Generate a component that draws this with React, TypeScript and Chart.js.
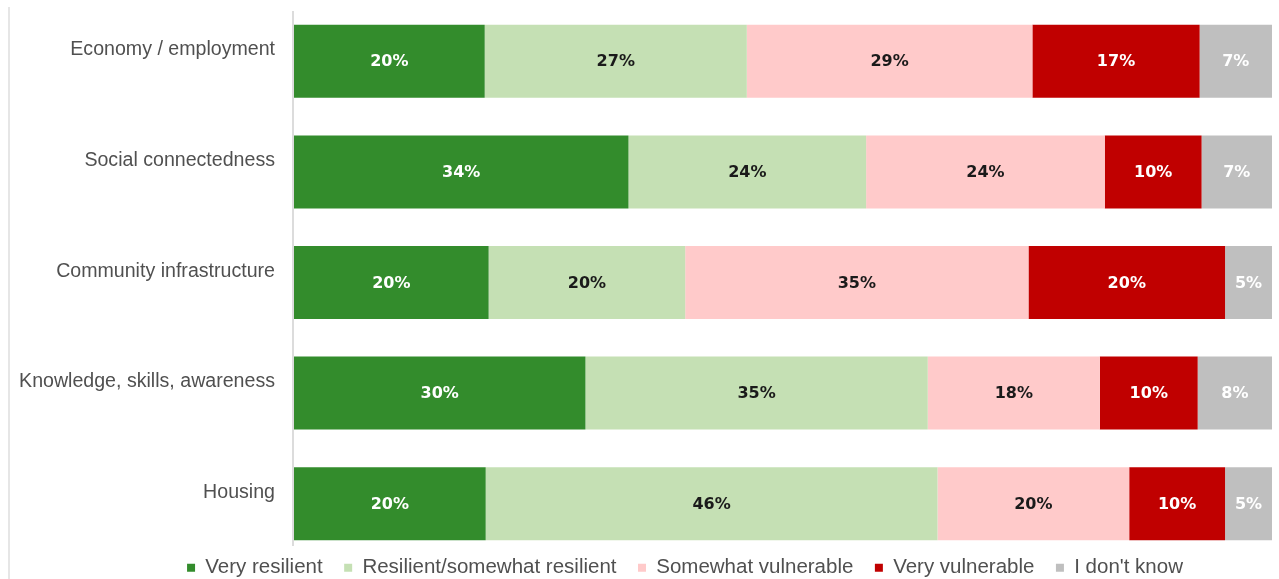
import React, { useEffect, useRef } from "react";
import { Chart, registerables } from "chart.js";

Chart.register(...registerables);

const categories = [
  ["Economy / employment", ""],
  ["Social connectedness", ""],
  ["Community infrastructure", ""],
  ["Knowledge, skills, awareness", ""],
  ["Housing", ""],
];

const seriesNames = [
  "Very resilient",
  "Resilient/somewhat resilient",
  "Somewhat vulnerable",
  "Very vulnerable",
  "I don't know",
];

const veryResilient = [19.5, 34.2, 19.9, 29.8, 19.6];
const resilient = [26.8, 24.3, 20.1, 35.0, 46.2];
const somewhatVulnerable = [29.2, 24.4, 35.1, 17.6, 19.6];
const veryVulnerable = [17.1, 9.9, 20.1, 10.0, 9.8];
const dontKnow = [7.4, 7.2, 4.8, 7.6, 4.8];

const seriesColors = ["#338c2c", "#c5e0b4", "#ffcaca", "#c00000", "#bfbfbf"];
const labelColors = ["#ffffff", "#1a1a1a", "#1a1a1a", "#ffffff", "#ffffff"];

const valueLabelPlugin = {
  id: "valueLabels",
  afterDatasetsDraw(chart: any) {
    const ctx = chart.ctx;
    ctx.save();
    ctx.font = "bold 16px 'DejaVu Sans'";
    ctx.textAlign = "center";
    ctx.textBaseline = "middle";
    chart.data.datasets.forEach((ds: any, i: number) => {
      const meta = chart.getDatasetMeta(i);
      meta.data.forEach((el: any, j: number) => {
        const v = ds.data[j];
        ctx.fillStyle = labelColors[i];
        ctx.fillText(Math.round(v) + "%", (el.x + el.base) / 2, el.y + 1);
      });
    });
    ctx.restore();
  },
};

const axisLinePlugin = {
  id: "axisLine",
  beforeDatasetsDraw(chart: any) {
    const { ctx, chartArea } = chart;
    ctx.save();
    ctx.strokeStyle = "#dcdcdc";
    ctx.lineWidth = 2;
    ctx.beginPath();
    ctx.moveTo(chartArea.left - 1, chartArea.top + 5);
    ctx.lineTo(chartArea.left - 1, chartArea.bottom - 13);
    ctx.stroke();
    ctx.restore();
  },
};

const legendShiftPlugin = {
  id: "legendShift",
  afterLayout(chart: any) {
    const lg = chart.legend;
    if (lg) {
      lg.left += 49;
      lg.right += 49;
      lg.top -= 23;
      lg.bottom -= 23;
    }
  },
};

export default function App() {
  const ref = useRef<HTMLCanvasElement | null>(null);

  useEffect(() => {
    if (!ref.current) return;
    const values = [veryResilient, resilient, somewhatVulnerable, veryVulnerable, dontKnow];
    const chart = new Chart(ref.current, {
      type: "bar",
      data: {
        labels: categories,
        datasets: values.map((d, i) => ({
          label: seriesNames[i],
          data: d,
          backgroundColor: seriesColors[i],
          borderWidth: 0,
          barPercentage: 0.66,
          categoryPercentage: 1,
        })),
      },
      options: {
        indexAxis: "y",
        responsive: false,
        animation: false,
        layout: { padding: { left: 0, right: 7, top: 6, bottom: -32 } },
        scales: {
          x: {
            stacked: true,
            min: 0,
            max: 100,
            display: false,
          },
          y: {
            stacked: true,
            grid: { display: false, drawTicks: false },
            border: { display: false },
            afterFit(scale: any) {
              scale.width = 294;
              scale.paddingTop = 0;
              scale.paddingBottom = 0;
            },
            ticks: {
              padding: 19,
              color: "#505050",
              font: { family: "'Liberation Sans'", size: 19.6, lineHeight: 1.15 },
            },
          },
        },
        plugins: {
          tooltip: { enabled: false },
          legend: {
            position: "bottom",
            labels: {
              boxWidth: 8,
              boxHeight: 8,
              padding: 21.5,
              color: "#505050",
              font: { family: "'Liberation Sans'", size: 20.5 },
            },
          },
        },
      },
      plugins: [valueLabelPlugin, axisLinePlugin, legendShiftPlugin],
    });
    return () => chart.destroy();
  }, []);

  return (
    <div style={{ position: "fixed", left: 0, top: 0, width: 1279, height: 579, background: "#fff", overflow: "hidden" }}>
      <div style={{ position: "absolute", left: 8, top: 7, width: 2, height: 572, background: "#e6e6e6" }} />
      <canvas ref={ref} width={1279} height={579} style={{ position: "absolute", left: 0, top: 0, width: 1279, height: 579 }} />
    </div>
  );
}
